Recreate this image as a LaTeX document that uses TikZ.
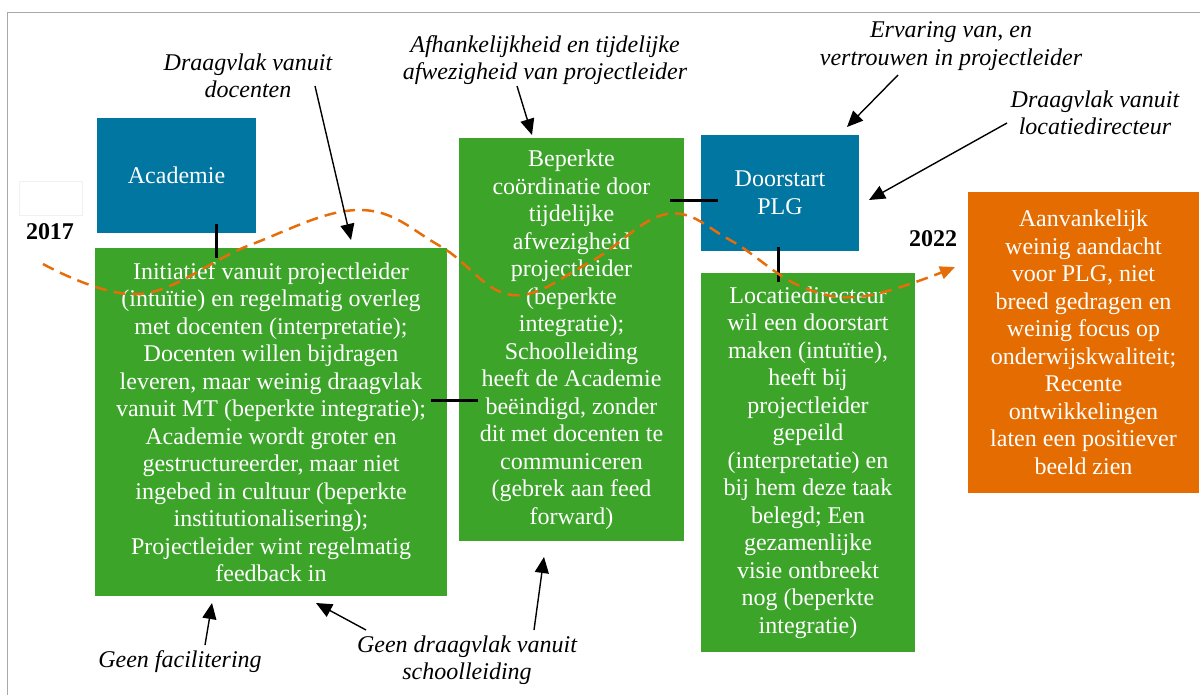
\documentclass[tikz,border=0pt]{standalone}
\usepackage{fontspec}
\setmainfont{Liberation Serif}
\usetikzlibrary{arrows.meta}
\definecolor{boxgreen}{RGB}{59,164,41}
\definecolor{boxblue}{RGB}{0,118,160}
\definecolor{boxorange}{RGB}{229,108,0}
\definecolor{trendorange}{RGB}{230,110,10}
\definecolor{framegray}{RGB}{168,168,168}
\begin{document}
\begin{tikzpicture}[x=1pt,y=-1pt,
  panel/.style={fill=#1, text=white, inner sep=0pt, outer sep=0pt, align=center,
    anchor=north west, font=\fontsize{24}{27.5}\selectfont},
  note/.style={align=center, inner sep=0pt, font=\itshape\fontsize{24}{27.5}\selectfont},
  yearlabel/.style={inner sep=0pt, font=\bfseries\fontsize{24}{27.5}\selectfont},
  link/.style={line width=3pt},
  pointer/.style={line width=1.4pt, -{Triangle[length=16pt,width=14pt]}},
  trend/.style={draw=trendorange, line width=2.5pt, dash pattern=on 12pt off 7pt,
    -{Triangle[length=15pt,width=13pt]}}
]
\useasboundingbox (0,0) rectangle (1200,695);

% outer frame
\draw[framegray, line width=1.5pt] (7.5,695) -- (7.5,12.5) -- (1200,12.5);
\draw[black!6, line width=0.8pt] (19,181) rectangle (82,215);

% phases
\node[panel=boxblue, minimum width=159pt, minimum height=115pt] (ac) at (97,118) {Academie};
\node[panel=boxgreen, minimum width=352pt, minimum height=348pt] (g1) at (95,248)
  {Initiatief vanuit projectleider\\(intuïtie) en regelmatig overleg\\met docenten (interpretatie);\\
   Docenten willen bijdragen\\leveren, maar weinig draagvlak\\vanuit MT (beperkte integratie);\\
   Academie wordt groter en\\gestructureerder, maar niet\\ingebed in cultuur (beperkte\\
   institutionalisering);\\Projectleider wint regelmatig\\feedback in};
\node[panel=boxgreen, minimum width=225pt, minimum height=403pt] (g2) at (459,138)
  {Beperkte\\coördinatie door\\tijdelijke\\afwezigheid\\projectleider\\(beperkte\\integratie);\\
   Schoolleiding\\heeft de Academie\\beëindigd, zonder\\dit met docenten te\\communiceren\\
   (gebrek aan feed\\forward)};
\node[panel=boxblue, minimum width=158pt, minimum height=116pt] (dp) at (701,135)
  {Doorstart\\PLG};
\node[panel=boxgreen, minimum width=214pt, minimum height=379pt] (g3) at (701,273)
  {Locatiedirecteur\\wil een doorstart\\maken (intuïtie),\\heeft bij\\projectleider\\gepeild\\
   (interpretatie) en\\bij hem deze taak\\belegd; Een\\gezamenlijke\\visie ontbreekt\\
   nog (beperkte\\integratie)};
\node[panel=boxorange, minimum width=231pt, minimum height=301pt] (or) at (968,192)
  {Aanvankelijk\\weinig aandacht\\voor PLG, niet\\breed gedragen en\\weinig focus op\\
   onderwijskwaliteit;\\Recente\\ontwikkelingen\\laten een positiever\\beeld zien};

% years
\node[yearlabel] (y1) at (50,232) {2017};
\node[yearlabel] (y2) at (933,239) {2022};

% links between phases
\coordinate (l1a) at ([xshift=39.5pt,yshift=9pt]ac.south);
\coordinate (l1b) at ([yshift=-10pt]g1.north);
\draw[link] (l1a) -- (l1a |- l1b);
\coordinate (l2a) at ([xshift=-16pt,yshift=22pt]g1.east);
\coordinate (l2b) at ([xshift=19pt]g2.west);
\draw[link] (l2a) -- (l2a -| l2b);
\coordinate (l3a) at ([xshift=-14pt]g2.east);
\coordinate (l3b) at ([xshift=17pt,yshift=-7.5pt]dp.west);
\draw[link] (l3a |- l3b) -- (l3b);
\coordinate (l4a) at ([xshift=-2pt,yshift=4pt]dp.south);
\coordinate (l4b) at ([yshift=-9pt]g3.north);
\draw[link] (l4a) -- (l4a |- l4b);

% development line
\draw[trend] plot[smooth, tension=0.65] coordinates {(43,264) (140,294) (250,245) (360,210)
  (440,246) (512,295) (590,262) (667,214) (730,240) (800,286) (865,296) (955,267)};

% influencing factors
\node[note] (n1) at (248,76) {Draagvlak vanuit\\docenten};
\node[note] (n2) at (545,60) {Afhankelijkheid en tijdelijke\\afwezigheid van projectleider};
\node[note] (n3) at (951,46) {Ervaring van, en\\vertrouwen in projectleider};
\node[note] (n4) at (1095,113) {Draagvlak vanuit\\locatiedirecteur};
\node[note] (n5) at (180,662) {Geen facilitering};
\node[note] (n6) at (467,660) {Geen draagvlak vanuit\\schoolleiding};

\coordinate (t1) at (315,86);   \coordinate (h1) at (351,240);
\coordinate (t2) at (517,86);   \coordinate (h2) at (532,135);
\coordinate (t3) at (898,75);   \coordinate (h3) at (847,127);
\coordinate (t4) at (1007,123); \coordinate (h4) at (869,200);
\coordinate (t5) at (205,645);  \coordinate (h5) at (212,603);
\coordinate (t6) at (366,630);  \coordinate (h6) at (316,603);
\coordinate (t7) at (534,630);  \coordinate (h7) at (544,557);
\foreach \i in {1,...,7} \draw[pointer] (t\i) -- (h\i);
\end{tikzpicture}
\end{document}
